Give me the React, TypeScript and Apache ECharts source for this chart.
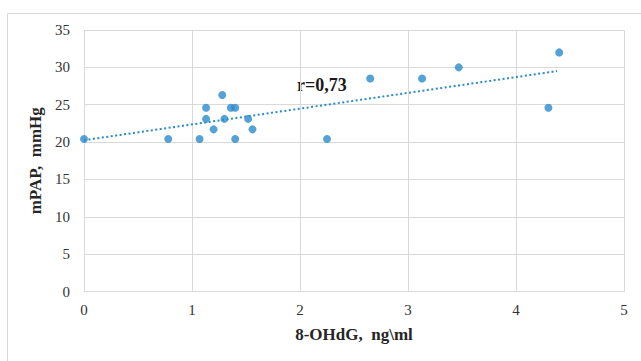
import React, { useEffect, useRef } from "react";
import * as echarts from "echarts";

const xValues = [0, 0.78, 1.07, 1.13, 1.13, 1.2, 1.28, 1.3, 1.36, 1.4, 1.4, 1.52, 1.56, 2.25, 2.65, 3.13, 3.47, 4.3, 4.4];
const yValues = [20.4, 20.4, 20.4, 24.6, 23.1, 21.7, 26.3, 23.1, 24.6, 24.6, 20.4, 23.1, 21.7, 20.4, 28.5, 28.5, 30.0, 24.6, 32.0];
const trendX = [0, 4.38];
const trendY = [20.25, 29.5];
const rLabel = "r=0,73";
const xTitle = "8-OHdG,  ng\\ml";
const yTitle = "mPAP,  mmHg";

const BLUE = "#2a8bcc";
const FONT = "'Liberation Serif', 'Times New Roman', serif";

export default function App() {
  const ref = useRef<HTMLDivElement>(null);
  useEffect(() => {
    if (!ref.current) return;
    const chart = echarts.init(ref.current, undefined, { renderer: "svg" });
    chart.setOption({
      animation: false,
      backgroundColor: "#ffffff",
      grid: { left: 84, right: 17, top: 30, bottom: 69.5, containLabel: false },
      xAxis: {
        type: "value",
        min: 0,
        max: 5,
        interval: 1,
        name: xTitle,
        nameLocation: "middle",
        nameGap: 34,
        nameTextStyle: { fontFamily: FONT, fontWeight: "bold", fontSize: 17, color: "#262626" },
        axisLine: { show: true, lineStyle: { color: "#d9d9d9", width: 1 } },
        axisTick: { show: false },
        axisLabel: { margin: 11, fontFamily: FONT, fontSize: 15, color: "#333333" },
        splitLine: { show: true, lineStyle: { color: "#d9d9d9", width: 1 } },
      },
      yAxis: {
        type: "value",
        min: 0,
        max: 35,
        interval: 5,
        name: yTitle,
        nameLocation: "middle",
        nameGap: 31,
        nameRotate: 90,
        nameTextStyle: { fontFamily: FONT, fontWeight: "bold", fontSize: 17, color: "#262626" },
        axisLine: { show: false },
        axisTick: { show: false },
        axisLabel: { margin: 14, fontFamily: FONT, fontSize: 15, color: "#333333" },
        splitLine: { show: true, lineStyle: { color: "#d9d9d9", width: 1 } },
      },
      graphic: [
        {
          type: "rect",
          shape: { x: 7.5, y: 13.5, width: 700, height: 400 },
          style: { fill: "none", stroke: "#d9d9d9", lineWidth: 1 },
          z: -10,
          silent: true,
        },
        {
          type: "text",
          left: 297,
          top: 76,
          style: {
            text: rLabel,
            fontFamily: FONT,
            fontWeight: 700,
            fontSize: 18,
            fill: "#1a1a1a",
          },
        },
      ],
      series: [
        {
          type: "line",
          data: trendX.map((x, i) => [x, trendY[i]]),
          showSymbol: false,
          symbol: "none",
          lineStyle: { color: BLUE, width: 2, type: [2, 2.5] },
          z: 2,
        },
        {
          type: "scatter",
          data: xValues.map((x, i) => [x, yValues[i]]),
          symbol: "circle",
          symbolSize: 8,
          itemStyle: { color: BLUE },
          z: 3,
        },
      ],
    });
    return () => chart.dispose();
  }, []);
  return <div ref={ref} style={{ position: "fixed", left: 0, top: 0, width: 641, height: 361 }} />;
}
